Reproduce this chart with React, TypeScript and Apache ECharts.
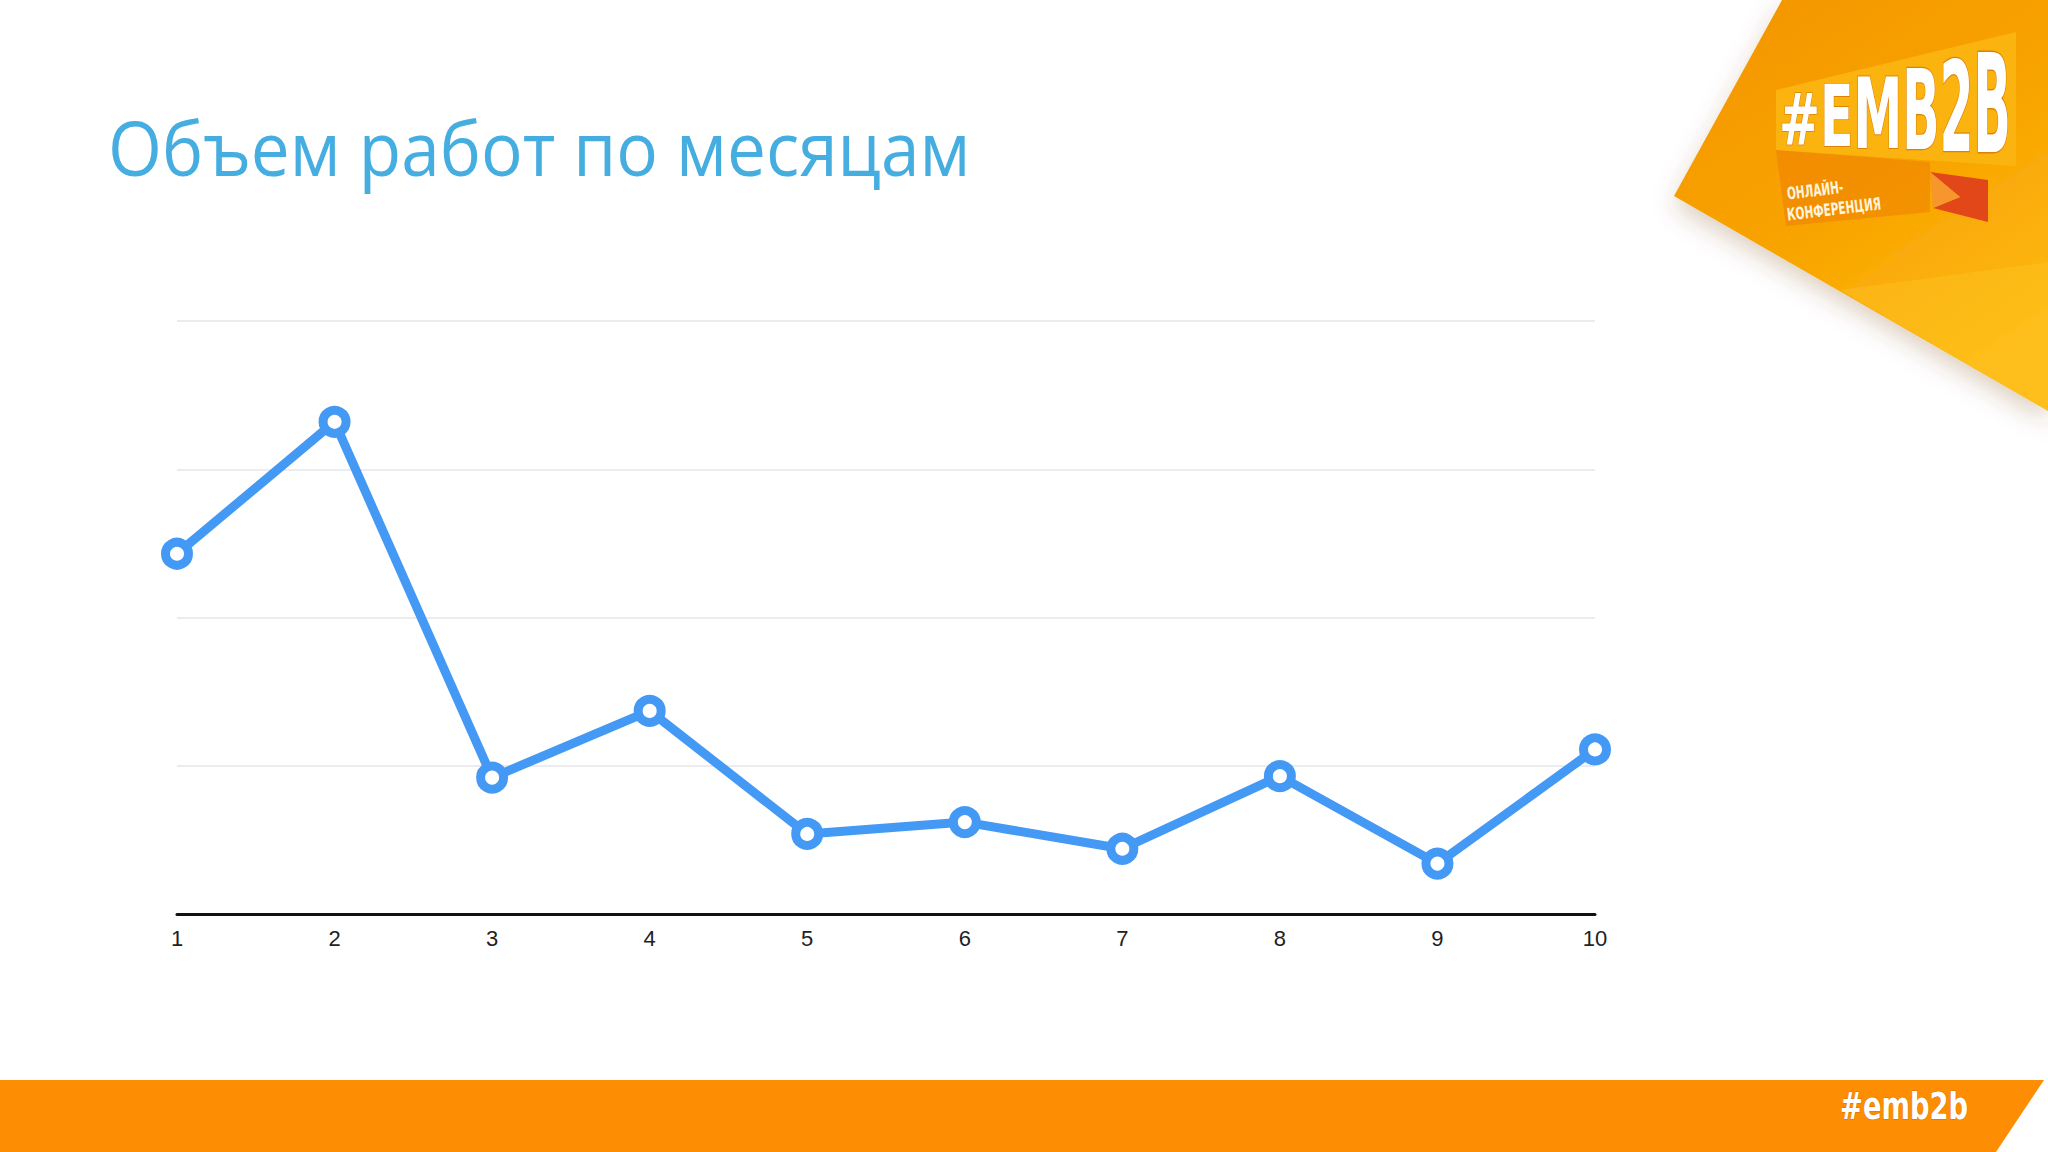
import React, { useRef, useEffect } from 'react';
import * as echarts from 'echarts';

const months = ['1', '2', '3', '4', '5', '6', '7', '8', '9', '10'];
const workVolume = [24.3, 33.2, 9.2, 13.7, 5.4, 6.2, 4.4, 9.3, 3.4, 11.1];
const yMax = 40;
const yStep = 10;

const titleText = 'Объем работ по месяцам';
const logoLetters = ['#', 'E', 'M', 'B', '2', 'B'];
// DejaVu Sans Bold advance widths (em) for the logo letters
const logoWidths = [0.838, 0.683, 0.995, 0.762, 0.696, 0.762];

const narrowFont = (size: number) => `bold ${size}px "DejaVu Sans", "Liberation Sans", sans-serif`;

const App: React.FC = () => {
  const chartRef = useRef<HTMLDivElement>(null);

  useEffect(() => {
    if (!chartRef.current) return;
    const chart = echarts.init(chartRef.current, undefined, { renderer: 'svg' });

    // logo letters grow to the right (perspective)
    const em = 72 * 0.68;
    let cursor = 1779;
    const letters = logoLetters.map((ch, i) => {
      const t = i / (logoLetters.length - 1);
      const el = {
        type: 'text',
        x: cursor,
        y: 150 + t * 14,
        scaleX: 0.68,
        scaleY: 1 + t * 0.9,
        style: {
          text: ch,
          fill: '#ffffff',
          font: narrowFont(72),
          verticalAlign: 'bottom',
          align: 'left',
          lineHeight: 62,
          stroke: 'rgba(190,80,0,0.5)',
          lineWidth: 1.5,
        },
        z: 20,
      };
      cursor += logoWidths[i] * em;
      return el;
    });

    chart.setOption({
      animation: false,
      backgroundColor: '#ffffff',
      grid: { left: 177, right: 2048 - 1595, top: 321, bottom: 1152 - 914 },
      xAxis: {
        type: 'category',
        data: months,
        boundaryGap: false,
        axisLine: { lineStyle: { color: '#111111', width: 3 } },
        axisTick: { show: false },
        axisLabel: {
          color: '#222222',
          fontSize: 22,
          fontFamily: 'Liberation Sans, Arial, sans-serif',
          margin: 13,
        },
      },
      yAxis: {
        type: 'value',
        min: 0,
        max: yMax,
        interval: yStep,
        axisLine: { show: false },
        axisTick: { show: false },
        axisLabel: { show: false },
        splitLine: { lineStyle: { color: '#e6e4ea', width: 1.5 } },
      },
      series: [
        {
          type: 'line',
          data: workVolume,
          symbol: 'circle',
          symbolSize: 23,
          lineStyle: { color: '#4499f5', width: 9 },
          itemStyle: { color: '#ffffff', borderColor: '#4499f5', borderWidth: 9 },
          z: 5,
        },
      ],
      graphic: [
        // title
        {
          type: 'text',
          x: 108,
          y: 184,
          scaleX: 0.925,
          style: {
            text: titleText,
            fill: '#45ade0',
            font: '75px "Open Sans", "Noto Sans", sans-serif',
            verticalAlign: 'bottom',
            align: 'left',
            lineHeight: 75,
          },
        },
        // top-right orange panel
        {
          type: 'polygon',
          shape: { points: [[1782, 0], [2048, 0], [2048, 411], [1674, 196]] },
          style: {
            fill: new echarts.graphic.LinearGradient(0, 0, 0.6, 1, [
              { offset: 0, color: '#f39400' },
              { offset: 0.55, color: '#f8a300' },
              { offset: 1, color: '#fdb812' },
            ]),
            shadowBlur: 24,
            shadowColor: 'rgba(120,60,0,0.25)',
            shadowOffsetY: 10,
          },
          z: 10,
        },
        // fold highlight
        {
          type: 'polygon',
          shape: { points: [[1840, 290], [2048, 262], [2048, 411]] },
          style: { fill: 'rgba(255,200,40,0.35)' },
          z: 11,
        },
        // yellow band behind logo letters
        {
          type: 'polygon',
          shape: { points: [[1776, 90], [2016, 32], [2016, 166], [1776, 150]] },
          style: { fill: '#fbb40f' },
          z: 12,
        },
        // darker lower band
        {
          type: 'polygon',
          shape: { points: [[1776, 150], [1930, 162], [1930, 212], [1786, 226]] },
          style: { fill: 'rgba(235,120,0,0.45)' },
          z: 12,
        },
        ...letters,
        // flag
        {
          type: 'polygon',
          shape: { points: [[1930, 172], [1988, 180], [1988, 222], [1933, 208], [1960, 197]] },
          style: { fill: '#e2471a' },
          z: 13,
        },
        {
          type: 'polygon',
          shape: { points: [[1930, 172], [1960, 197], [1933, 208]] },
          style: { fill: '#f7962c' },
          z: 13,
        },
        {
          type: 'text',
          x: 1788,
          y: 202,
          rotation: 0.12,
          scaleX: 0.62,
          style: {
            text: 'ОНЛАЙН-',
            fill: '#fff4dc',
            font: narrowFont(17),
            verticalAlign: 'bottom',
          },
          z: 14,
        },
        {
          type: 'text',
          x: 1788,
          y: 223,
          rotation: 0.12,
          scaleX: 0.62,
          style: {
            text: 'КОНФЕРЕНЦИЯ',
            fill: '#fff4dc',
            font: narrowFont(17),
            verticalAlign: 'bottom',
          },
          z: 14,
        },
        // bottom bar
        {
          type: 'polygon',
          shape: { points: [[0, 1080], [2044, 1080], [1996, 1152], [0, 1152]] },
          style: { fill: '#fd8d02' },
          z: 10,
        },
        {
          type: 'text',
          x: 1840,
          y: 1106,
          scaleX: 0.72,
          style: {
            text: '#emb2b',
            fill: '#ffffff',
            font: narrowFont(38),
            verticalAlign: 'middle',
            align: 'left',
            stroke: 'rgba(160,70,0,0.4)',
            lineWidth: 1,
          },
          z: 11,
        },
      ],
    });

    return () => {
      chart.dispose();
    };
  }, []);

  return (
    <div
      ref={chartRef}
      style={{ position: 'absolute', left: 0, top: 0, width: '2048px', height: '1152px' }}
    />
  );
};

export default App;
